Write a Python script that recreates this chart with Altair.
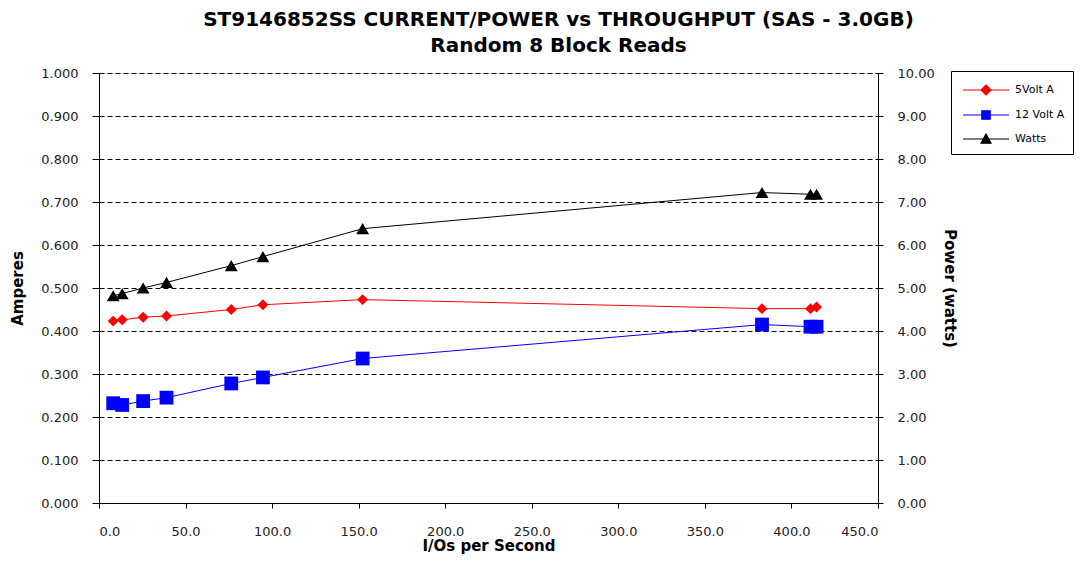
import altair as alt
import pandas as pd

# ---- data ----
iops = [8.2, 13.4, 25.5, 39.0, 76.4, 94.7, 152.3, 383.0, 411.0, 414.5]
amps_5v = [0.423, 0.426, 0.432, 0.435, 0.450, 0.461, 0.473, 0.452, 0.452, 0.456]
amps_12v = [0.232, 0.228, 0.237, 0.245, 0.278, 0.292, 0.336, 0.415, 0.410, 0.410]
watts = [4.82, 4.87, 5.00, 5.13, 5.52, 5.73, 6.38, 7.22, 7.18, 7.18]

series_names = ["5Volt A", "12 Volt A", "Watts"]
series_colors = ["#FF0000", "#0000FF", "#000000"]
x_ticks = [0, 50, 100, 150, 200, 250, 300, 350, 400, 450]
amp_ticks = [0.0, 0.1, 0.2, 0.3, 0.4, 0.5, 0.6, 0.7, 0.8, 0.9, 1.0]
watt_ticks = [0, 1, 2, 3, 4, 5, 6, 7, 8, 9, 10]

df = pd.DataFrame({"iops": iops, "a5": amps_5v, "a12": amps_12v, "w": watts})
legend_df = pd.DataFrame({"series": series_names})

FONT = "DejaVu Sans"

x_enc = alt.X(
    "iops:Q",
    scale=alt.Scale(domain=[0, 450], nice=False),
    axis=alt.Axis(
        values=x_ticks, format=".1f", title="I/Os per Second",
        labelFontSize=13, labelColor="#222222", labelFont=FONT,
        titleFontSize=15, titleFont=FONT, titleFontWeight="bold", titleColor="#000000",
        tickSize=5, tickColor="#000000", domainColor="#000000",
        labelPadding=17, titlePadding=0, grid=False,
    ),
)

left_y = alt.Scale(domain=[0, 1], nice=False)
right_y = alt.Scale(domain=[0, 10], nice=False)

left_axis = alt.Axis(
    values=amp_ticks, format=".3f", title="Amperes", orient="left",
    labelFontSize=13, labelColor="#222222", labelFont=FONT,
    titleFontSize=15, titleFont=FONT, titleFontWeight="bold", titleColor="#000000",
    tickSize=7, tickColor="#000000", domainColor="#000000", labelPadding=14,
    titlePadding=15, grid=True, gridColor="#000000", gridDash=[5, 3], gridWidth=1,
)
right_axis = alt.Axis(
    values=watt_ticks, format=".2f", title="Power (watts)", orient="right",
    labelFontSize=13, labelColor="#222222", labelFont=FONT,
    titleFontSize=15, titleFont=FONT, titleFontWeight="bold", titleColor="#000000",
    tickSize=5, tickColor="#000000", domainColor="#000000", labelPadding=14,
    titlePadding=7, grid=False,
)

base = alt.Chart(df)

line5 = base.mark_line(color="#FF0000", strokeWidth=1).encode(
    x=x_enc, y=alt.Y("a5:Q", scale=left_y, axis=left_axis))
pt5 = base.mark_point(shape="diamond", filled=True, color="#FF0000", size=120, opacity=1).encode(
    x="iops:Q", y="a5:Q")
line12 = base.mark_line(color="#0000FF", strokeWidth=1).encode(
    x="iops:Q", y="a12:Q")
pt12 = base.mark_point(shape="square", filled=True, color="#0000FF", size=190, opacity=1).encode(
    x="iops:Q", y="a12:Q")

legend_paths = [
    "M-2.3,0H2.3M0,-0.5L0.5,0L0,0.5L-0.5,0Z",
    "M-2.3,0H2.3M-0.42,-0.42H0.42V0.42H-0.42Z",
    "M-2.3,0H2.3M0,-0.5L0.5,0.42H-0.5Z",
]
leg = alt.Legend(
    orient="none", legendX=852, legendY=-2, direction="vertical",
    strokeColor="#000000", padding=8, symbolOffset=16,
    labelOffset=18, rowPadding=6, labelFontSize=11, labelFont=FONT,
    labelColor="#000000", symbolSize=400, symbolOpacity=1,
    symbolStrokeWidth=1.2,
)
color_scale = alt.Scale(domain=series_names, range=series_colors)
legend_layer = alt.Chart(legend_df).mark_point(filled=True, size=400, opacity=0).encode(
    fill=alt.Fill("series:N", scale=color_scale, title=None, legend=leg),
    stroke=alt.Stroke("series:N", scale=color_scale, title=None, legend=leg),
    shape=alt.Shape("series:N", scale=alt.Scale(domain=series_names, range=legend_paths),
                    title=None, legend=leg),
)

left = alt.layer(line5, line12, pt5, pt12, legend_layer)

lineW = base.mark_line(color="#000000", strokeWidth=1).encode(
    x="iops:Q", y=alt.Y("w:Q", scale=right_y, axis=right_axis))
ptW = base.mark_point(shape="triangle-up", filled=True, color="#000000", size=165, opacity=1).encode(
    x="iops:Q", y="w:Q")
right = alt.layer(lineW, ptW)

chart = alt.layer(left, right).resolve_scale(y="independent").properties(
    width=779, height=430,
    autosize=alt.AutoSizeParams(type="none"),
    padding={"left": 91, "top": 65, "right": 198, "bottom": 52},
    title=alt.TitleParams(
        text=["ST9146852SS CURRENT/POWER vs THROUGHPUT (SAS - 3.0GB)", "Random 8 Block Reads"],
        font=FONT, fontSize=20, fontWeight="bold", color="#000000",
        anchor="middle", dx=70, offset=11, lineHeight=26,
    ),
).configure_view(stroke=None).configure(background="#FFFFFF")

chart.save("out.html", embed_options={"renderer": "svg", "actions": False})
